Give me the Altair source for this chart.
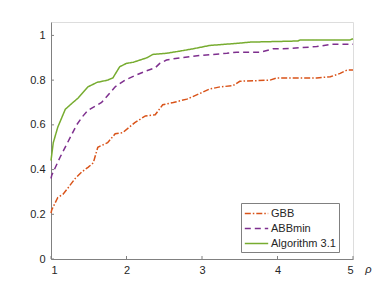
import altair as alt
import pandas as pd

series_names = ["GBB", "ABBmin", "Algorithm 3.1"]
series_colors = ["#D95319", "#7E2F8E", "#77AC30"]

gbb_x = [1.0, 1.01, 1.09, 1.16, 1.23, 1.32, 1.41, 1.49, 1.56, 1.62, 1.75, 1.85, 1.95, 2.11, 2.25, 2.38, 2.48, 2.62, 2.8, 2.97, 3.1, 3.24, 3.41, 3.5, 3.9, 3.99, 4.52, 4.7, 4.83, 4.92, 5.0]
gbb_y = [0.205, 0.22, 0.275, 0.29, 0.32, 0.36, 0.39, 0.41, 0.43, 0.50, 0.52, 0.56, 0.565, 0.61, 0.64, 0.645, 0.69, 0.70, 0.715, 0.74, 0.76, 0.77, 0.775, 0.795, 0.80, 0.81, 0.81, 0.815, 0.83, 0.845, 0.845]

abb_x = [1.0, 1.01, 1.12, 1.34, 1.41, 1.49, 1.54, 1.67, 1.85, 1.98, 2.11, 2.25, 2.38, 2.44, 2.53, 2.71, 2.97, 3.33, 3.46, 3.77, 3.94, 4.07, 4.52, 4.7, 5.0]
abb_y = [0.36, 0.375, 0.455, 0.60, 0.634, 0.665, 0.675, 0.70, 0.77, 0.80, 0.82, 0.84, 0.855, 0.875, 0.89, 0.90, 0.91, 0.92, 0.925, 0.925, 0.94, 0.94, 0.95, 0.96, 0.96]

alg_x = [1.0, 1.03, 1.09, 1.19, 1.29, 1.36, 1.49, 1.61, 1.75, 1.82, 1.91, 2.0, 2.09, 2.18, 2.27, 2.35, 2.53, 2.71, 2.88, 3.1, 3.48, 3.64, 4.27, 4.3, 4.96, 5.0]
alg_y = [0.44, 0.52, 0.59, 0.67, 0.70, 0.72, 0.77, 0.79, 0.80, 0.81, 0.86, 0.875, 0.88, 0.89, 0.90, 0.915, 0.92, 0.93, 0.94, 0.955, 0.965, 0.97, 0.975, 0.98, 0.98, 0.985]

x_ticks = [1, 2, 3, 4, 5]
y_ticks = [0, 0.2, 0.4, 0.6, 0.8, 1]

rows = []
for name, xs, ys in zip(series_names, [gbb_x, abb_x, alg_x], [gbb_y, abb_y, alg_y]):
    for i, (a, b) in enumerate(zip(xs, ys)):
        rows.append({"series": name, "rho": a, "val": b, "order": i})
df = pd.DataFrame(rows)

font = "Liberation Sans"
axis_col = "#808080"
text_col = "#262626"

xscale = alt.Scale(domain=[1, 5], nice=False)
yscale = alt.Scale(domain=[0, 1.06], nice=False)


def make_legend():
    return alt.Legend(title=None, orient="none", legendX=190, legendY=181,
                      symbolType="M-1.8,0L1.8,0", symbolSize=169, symbolStrokeWidth=1.5,
                      symbolOffset=5, labelOffset=7,
                      labelFont=font, labelFontSize=11, labelColor=text_col,
                      strokeColor=axis_col, fillColor="white", padding=3,
                      rowPadding=2, cornerRadius=0)


lines = alt.Chart(df).mark_line(strokeWidth=1.5).encode(
    x=alt.X("rho:Q", scale=xscale,
            axis=alt.Axis(values=x_ticks, format="~g", ticks=False, grid=False, domainColor=axis_col,
                          labelColor=text_col, labelFont=font, labelFontSize=11, labelPadding=5,
                          title="ρ", titleFont=font, titleFontStyle="italic", titleFontWeight="normal",
                          titleFontSize=11, titleColor=text_col, titleX=317, titleY=4)),
    y=alt.Y("val:Q", scale=yscale,
            axis=alt.Axis(values=y_ticks, format="~g", ticks=False, grid=False, domainColor=axis_col,
                          labelColor=text_col, labelFont=font, labelFontSize=11, labelPadding=6,
                          title=None)),
    color=alt.Color("series:N", scale=alt.Scale(domain=series_names, range=series_colors),
                    legend=make_legend()),
    strokeDash=alt.StrokeDash("series:N",
                              scale=alt.Scale(domain=series_names, range=[[6, 2, 1.5, 2], [6, 4], [1, 0]]),
                              legend=make_legend()),
    order="order:O",
)

xt = alt.Chart(pd.DataFrame({"t": x_ticks})).mark_rule(color=axis_col, strokeWidth=1).encode(
    x=alt.X("t:Q", scale=xscale), y=alt.value(237), y2=alt.value(234))
yt = alt.Chart(pd.DataFrame({"t": y_ticks})).mark_rule(color=axis_col, strokeWidth=1).encode(
    y=alt.Y("t:Q", scale=yscale), x=alt.value(0), x2=alt.value(3))

chart = alt.layer(lines, xt, yt).properties(
    width=302, height=237,
    autosize=alt.AutoSizeParams(type="none"),
    padding={"left": 43, "top": 14, "right": 29, "bottom": 24},
).configure_view(stroke=None).configure(background="white")

chart.save("out.html", embed_options={"renderer": "svg", "actions": False})
